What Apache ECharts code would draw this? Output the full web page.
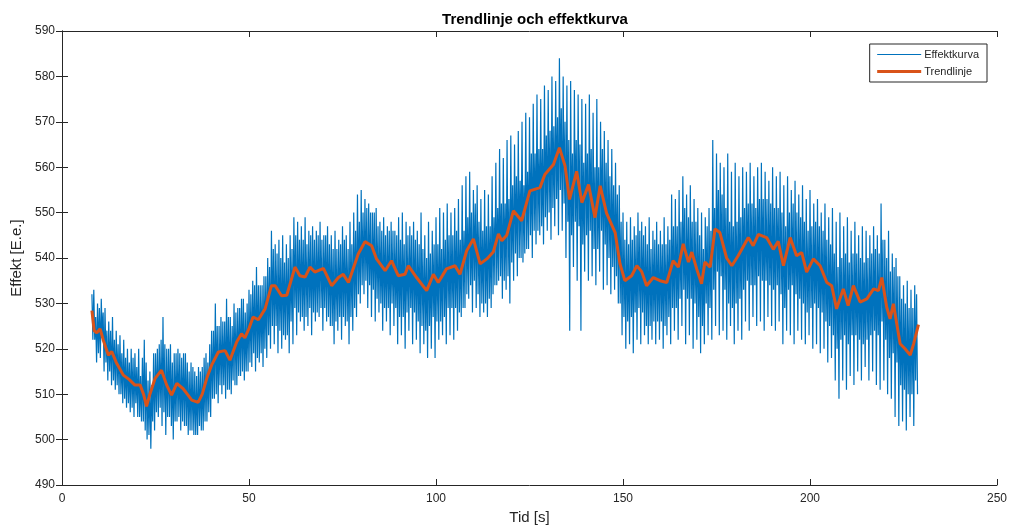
<!DOCTYPE html>
<html>
<head>
<meta charset="utf-8">
<script src="https://cdn.jsdelivr.net/npm/echarts@6/dist/echarts.min.js"></script>
<style>
  html, body { margin: 0; padding: 0; background: #fff; }
  #main { width: 1011px; height: 530px; }
</style>
</head>
<body>
<div id="main"></div>
<script>
// tid [s] for the first second of the effect curve
// each second: top (t), inner low (t+0.25), inner high (t+0.5), bottom (t+0.75)
var firstSecond = 8;

// tops of the effect curve, t = 8, 9, 10 ... 228
var peakVals = [
  532, 527, 529, 528, 524, 524, 522, 521, 519, 518,
  517, 518, 516, 514, 522, 513, 512, 519, 521, 527,
  520, 521, 519, 520, 518, 519, 515, 516, 514, 515,
  518, 517, 524, 530, 525, 526, 531, 527, 530, 529,
  531, 528, 533, 535, 538, 534, 536, 540, 546, 543,
  544, 545, 543, 545, 549, 548, 547, 549, 546, 547,
  546, 548, 545, 547, 545, 546, 544, 547, 545, 548,
  550, 554, 555, 553, 552, 550, 551, 548, 549, 547,
  548, 546, 549, 550, 548, 547, 548, 546, 550, 545,
  548, 546, 549, 551, 550, 552, 550, 551, 553, 556,
  558, 559, 555, 556, 553, 555, 554, 558, 561, 564,
  562, 566, 567, 565, 568, 570, 572, 571, 574, 576,
  575, 578, 577, 580, 579, 584, 580, 578, 579, 577,
  576, 575, 574, 576, 572, 575, 570, 568, 566, 564,
  561, 556, 550, 548, 549, 547, 550, 548, 547, 549,
  546, 548, 546, 549, 547, 554, 553, 555, 558, 554,
  556, 553, 551, 550, 549, 551, 566, 563, 561, 560,
  563, 559, 561, 558, 560, 559, 561, 558, 560, 561,
  559, 557, 560, 558, 559, 556, 558, 555, 557, 554,
  556, 553, 555, 552, 553, 550, 552, 549, 551, 548,
  550, 547, 549, 546, 548, 545, 547, 546, 545, 547,
  545, 552, 544, 546, 541, 540, 536, 534, 535, 533,
  534
];

// inner lows (dense core of the band), t = 8.25 ... 228.25
var innerLowVals = [
  522, 517, 518, 515, 513, 512, 511, 510, 508, 507,
  506, 505, 505, 504, 502, 501, 504, 506, 507, 506,
  505, 503, 504, 505, 504, 503, 502, 501, 501, 502,
  504, 506, 509, 510, 512, 512, 511, 510, 512, 514,
  515, 515, 517, 519, 518, 519, 520, 523, 525, 525,
  524, 523, 523, 526, 529, 528, 527, 527, 529, 528,
  528, 529, 529, 527, 525, 526, 527, 527, 526, 527,
  529, 532, 534, 535, 534, 533, 531, 530, 529, 529,
  530, 529, 527, 527, 528, 529, 528, 526, 525, 524,
  525, 527, 526, 526, 527, 529, 529, 529, 528, 529,
  532, 534, 535, 532, 530, 530, 531, 532, 534, 536,
  535, 536, 539, 541, 540, 539, 542, 545, 546, 546,
  547, 549, 550, 551, 553, 555, 552, 548, 545, 548,
  547, 543, 545, 546, 542, 542, 546, 543, 540, 538,
  536, 530, 527, 526, 527, 528, 529, 528, 525, 525,
  526, 526, 526, 525, 527, 529, 529, 531, 533, 531,
  531, 530, 527, 525, 530, 529, 533, 537, 536, 533,
  530, 529, 530, 531, 533, 535, 534, 534, 536, 535,
  535, 534, 533, 534, 532, 529, 533, 534, 532, 531,
  530, 528, 529, 530, 529, 528, 526, 525, 523, 520,
  522, 523, 521, 523, 523, 522, 521, 522, 523, 524,
  523, 526, 522, 518, 519, 517, 512, 511, 510, 510,
  513
];

// inner highs (dense core of the band), t = 8.5 ... 228.5
var innerHighVals = [
  533, 530, 531, 529, 526, 527, 524, 523, 522, 520,
  520, 519, 520, 518, 517, 515, 519, 520, 522, 521,
  520, 517, 519, 519, 519, 517, 517, 515, 516, 516,
  519, 521, 524, 525, 527, 526, 527, 525, 528, 529,
  531, 530, 532, 534, 534, 534, 536, 538, 542, 541,
  540, 539, 540, 542, 545, 544, 544, 543, 545, 544,
  545, 544, 545, 543, 542, 542, 543, 544, 542, 543,
  546, 548, 550, 551, 550, 550, 547, 546, 545, 546,
  546, 545, 544, 543, 545, 545, 544, 543, 542, 540,
  541, 543, 543, 542, 544, 545, 545, 546, 544, 546,
  549, 550, 552, 548, 546, 547, 547, 549, 551, 552,
  552, 553, 556, 558, 557, 556, 559, 563, 563, 564,
  564, 567, 568, 569, 571, 573, 570, 566, 563, 566,
  565, 561, 563, 564, 560, 560, 564, 561, 558, 556,
  554, 548, 544, 543, 544, 545, 546, 545, 543, 542,
  544, 543, 543, 543, 544, 547, 547, 548, 551, 549,
  548, 548, 545, 542, 547, 546, 551, 555, 554, 551,
  548, 547, 548, 549, 551, 552, 552, 551, 553, 553,
  553, 552, 551, 551, 550, 547, 550, 552, 550, 549,
  548, 546, 547, 548, 547, 546, 544, 543, 541, 538,
  540, 541, 539, 541, 541, 540, 539, 540, 541, 542,
  541, 544, 540, 537, 538, 536, 531, 530, 529, 529,
  532
];

// bottoms of the effect curve, t = 8.75 ... 228.75
var troughVals = [
  522, 519, 523, 517, 515, 513, 512, 510, 509, 508,
  507, 508, 505, 504, 500, 498, 502, 505, 503, 501,
  505, 500, 504, 502, 503, 501, 502, 501, 503, 502,
  504, 505, 509, 508, 510, 509, 511, 513, 512, 514,
  513, 515, 516, 515, 517, 516, 518, 520, 521, 519,
  520, 522, 519, 521, 523, 526, 524, 525, 523, 526,
  527, 524, 526, 525, 521, 524, 522, 525, 521, 524,
  527, 530, 532, 529, 527, 526, 528, 524, 526, 523,
  525, 521, 523, 520, 524, 521, 522, 519, 521, 518,
  520, 518, 522, 523, 521, 523, 522, 524, 527, 529,
  531, 528, 529, 527, 528, 527, 529, 534, 535, 531,
  533, 530, 535, 536, 540, 541, 542, 540, 543, 545,
  543, 546, 544, 547, 545, 546, 540, 524, 538, 535,
  524, 537, 535, 536, 534, 537, 533, 534, 532, 533,
  530, 523, 520, 521, 519, 522, 521, 523, 521, 522,
  521, 522, 520, 523, 521, 524, 522, 525, 521, 523,
  520, 522, 519, 521, 523, 522, 525, 523, 524, 522,
  525, 521, 524, 522, 526, 524, 527, 525, 526, 524,
  527, 525, 524, 526, 521, 524, 523, 521, 524, 522,
  521, 523, 520, 521, 519, 520, 517, 518, 513, 509,
  513, 511, 514, 512, 515, 513, 516, 513, 515, 512,
  511, 513, 510, 509, 505, 503, 504, 502, 505, 503,
  510
];

// trendlinje, read point by point
var trendTime = [
  8, 8.6, 9.3, 10.2, 11, 12.4, 13.3, 14.5, 16.4, 18,
  19.5, 20.9, 21.8, 22.6, 23.5, 24.9, 26.6, 28, 29.3, 30.7,
  32.4, 33.5, 34.7, 36.4, 37.5, 38.7, 40, 41.8, 43.6, 44.9,
  46.7, 48, 48.9, 50, 51.1, 52.5, 54.3, 56, 57, 58.7,
  60.1, 62.3, 63.6, 65, 66.3, 67.6, 69.9, 72.1, 73.9, 75.2,
  76.6, 79.2, 81, 82.8, 84.1, 86.4, 88.1, 89.9, 91.7, 92.6,
  94.8, 97.5, 99.3, 100.6, 102.8, 105.1, 106.4, 108.2, 110, 111.8,
  113.6, 115.3, 116.7, 117.6, 118.9, 120.7, 122.9, 125.1, 127.8, 129.1,
  131.4, 133, 134.5, 135.7, 137.6, 139, 140.8, 142.5, 143.9, 145.6,
  147.9, 149.2, 150.5, 152.3, 153.7, 155, 156.3, 158.1, 159.9, 161.7,
  163.4, 164.8, 166.1, 167.5, 168.4, 169.7, 171, 171.9, 173.3, 174.6,
  175.9, 177.7, 179.1, 180.8, 183.5, 184.8, 186.2, 188.4, 190.2, 191.5,
  192.9, 194.7, 196.4, 197.8, 199.1, 200.9, 202.7, 204.5, 205.8, 207.1,
  208.9, 210.2, 211.6, 213.4, 215.2, 217, 218.3, 219.2, 220.5, 221.4,
  222.3, 224.1, 225.4, 226.8, 227.7, 229
];
var trendVal = [
  528.4, 524, 523.5, 524.4, 522, 518.6, 519.4, 517, 514.2, 513.2,
  512, 512, 510, 507.3, 510, 513.5, 515.3, 512, 509.8, 512.4,
  511.2, 510, 508.7, 508.2, 510, 513.5, 516.4, 519.3, 519.6, 517.5,
  521.5, 523.3, 522.4, 524.5, 527, 526.4, 528.8, 533.9, 533.9, 531.7,
  531.8, 538, 536.1, 535.8, 538, 536.9, 537.7, 533.9, 535.7, 536.4,
  534.6, 540.9, 543.6, 542.7, 539.8, 537.2, 539.4, 536.1, 536.4, 538.3,
  535.7, 532.8, 536.4, 534.6, 537.6, 538.3, 536.4, 541.6, 544.2, 538.7,
  539.8, 541.3, 545.3, 543.8, 545, 550.4, 548.2, 554.8, 555.5, 558.4,
  560.6, 564.3, 560.3, 552.9, 559.1, 552.2, 556.2, 548.9, 555.9, 549.9,
  545.6, 538.7, 535, 536.1, 538.3, 537, 533.9, 535.7, 535, 534.6,
  539.4, 538, 543.1, 539.1, 541.3, 537.6, 534.3, 539.1, 538, 546.4,
  545.6, 540, 538.3, 540.5, 544.5, 542.7, 545.2, 544.5, 541.9, 543.7,
  538.3, 544.5, 540.5, 541.2, 536.9, 539.8, 538.3, 534.6, 533.9, 528.8,
  533.2, 529.5, 533.9, 530.3, 531, 533.2, 532.8, 535.7, 529.2, 526.6,
  529.9, 521.1, 520, 518.6, 521.1, 525.3
];

var xTicks = [0, 50, 100, 150, 200, 250];
var yTicks = [490, 500, 510, 520, 530, 540, 550, 560, 570, 580, 590];

var chart = echarts.init(document.getElementById('main'), null, { renderer: 'canvas' });

// put the four arrays together into one curve
var effekt = [];
for (var i = 0; i < peakVals.length; i++) {
  var t = firstSecond + i;
  effekt.push([t, peakVals[i]]);
  effekt.push([t + 0.25, innerLowVals[i]]);
  effekt.push([t + 0.5, innerHighVals[i]]);
  effekt.push([t + 0.75, troughVals[i]]);
}
var trend = trendTime.map(function (t, i) { return [t, trendVal[i]]; });

var axisCol = '#262626';
var font = '"Liberation Sans", Arial, sans-serif';

var option = {
  backgroundColor: '#fff',
  animation: false,
  title: {
    text: 'Trendlinje och effektkurva',
    left: 530,
    textAlign: 'center',
    top: 7,
    textStyle: { fontFamily: font, fontSize: 15, fontWeight: 'bold', color: '#000' }
  },
  legend: {
    orient: 'vertical',
    right: 24,
    top: 44,
    padding: [5, 8, 5, 6],
    itemGap: 6,
    itemWidth: 44,
    itemHeight: 10,
    borderColor: axisCol,
    borderWidth: 1,
    borderRadius: 0,
    backgroundColor: '#fff',
    itemStyle: { opacity: 0 },
    textStyle: { fontFamily: font, fontSize: 11, color: axisCol, padding: [0, 0, 0, -2] },
    data: [
      { name: 'Effektkurva', lineStyle: { width: 1 } },
      { name: 'Trendlinje', lineStyle: { width: 3 } }
    ]
  },
  grid: { left: 62, right: 14, top: 31, bottom: 43 },
  xAxis: [{
    type: 'value',
    min: xTicks[0],
    max: xTicks[xTicks.length - 1],
    interval: 50,
    name: 'Tid [s]',
    nameLocation: 'middle',
    nameGap: 25,
    nameTextStyle: { fontFamily: font, fontSize: 15, color: axisCol },
    axisLine: { show: true, lineStyle: { color: axisCol, width: 1 } },
    axisTick: { show: true, inside: true, length: 6, lineStyle: { color: axisCol } },
    axisLabel: { fontFamily: font, fontSize: 12, color: axisCol, margin: 8 },
    splitLine: { show: false }
  }, {
    type: 'value',
    position: 'top',
    min: xTicks[0],
    max: xTicks[xTicks.length - 1],
    interval: 50,
    axisLine: { show: true, lineStyle: { color: axisCol, width: 1 } },
    axisTick: { show: true, inside: true, length: 6, lineStyle: { color: axisCol } },
    axisLabel: { show: false },
    splitLine: { show: false }
  }],
  yAxis: [{
    type: 'value',
    min: yTicks[0],
    max: yTicks[yTicks.length - 1],
    interval: 10,
    name: 'Effekt [E.e.]',
    nameLocation: 'middle',
    nameGap: 38,
    nameRotate: 90,
    nameTextStyle: { fontFamily: font, fontSize: 15, color: axisCol },
    axisLine: { show: true, lineStyle: { color: axisCol, width: 1 } },
    axisTick: { show: true, inside: true, length: 6, lineStyle: { color: axisCol } },
    axisLabel: { fontFamily: font, fontSize: 12, color: axisCol, margin: 7 },
    splitLine: { show: false }
  }, {
    type: 'value',
    position: 'right',
    min: yTicks[0],
    max: yTicks[yTicks.length - 1],
    interval: 10,
    axisLine: { show: true, lineStyle: { color: axisCol, width: 1 } },
    axisTick: { show: true, inside: true, length: 6, lineStyle: { color: axisCol } },
    axisLabel: { show: false },
    splitLine: { show: false }
  }],
  series: [{
    name: 'Effektkurva',
    type: 'line',
    data: effekt,
    showSymbol: false,
    symbol: 'none',
    sampling: null,
    color: '#0072BD',
    lineStyle: { color: '#0072BD', width: 1.2 },
    z: 2
  }, {
    name: 'Trendlinje',
    type: 'line',
    data: trend,
    showSymbol: false,
    symbol: 'none',
    color: '#D95319',
    lineStyle: { color: '#D95319', width: 3 },
    z: 3
  }]
};

chart.setOption(option);
</script>
</body>
</html>
